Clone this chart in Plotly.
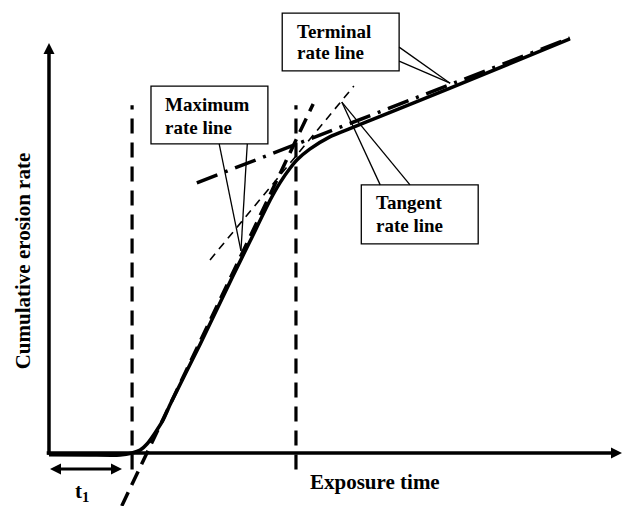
import plotly.graph_objects as go

# Cumulative erosion vs exposure time (schematic, arbitrary units)
time_curve = [0.0, 7.2, 12.4, 14.5, 15.9, 17.1, 18.5, 19.9, 21.1, 26.4, 32.1, 35.1,
              38.6, 40.3, 42.1, 43.3, 45.5, 49.0, 52.5, 57.8, 70.0, 90.9]
erosion_curve = [-0.4, -0.5, -0.5, 0.0, 0.7, 2.2, 4.9, 8.0, 11.7, 26.6, 43.2, 51.7,
                 61.7, 65.9, 69.5, 71.5, 74.1, 77.1, 79.1, 82.1, 89.0, 101.0]

# Rate lines
max_rate_time = [12.7, 46.1]
max_rate_erosion = [-12.9, 85.1]
tangent_time = [28.1, 53.2]
tangent_erosion = [47.1, 89.5]
terminal_time = [25.8, 90.9]
terminal_erosion = [65.9, 101.2]

# Characteristic times (vertical markers)
incubation_end = 14.5
knee_time = 43.1
marker_span = [-4.0, 84.8]

# Axis extents and incubation-period span
axis_time_max = 100.0
axis_erosion_max = 100.0
incubation_span = [0.17, 12.74]
incubation_level = -3.9

BOX_FONT = dict(family="Liberation Serif", size=19, color="black")
AXIS_FONT = dict(family="Liberation Serif", size=21, color="black")

fig = go.Figure()

# vertical dashed markers
for t in (incubation_end, knee_time):
    fig.add_trace(go.Scatter(x=[t, t], y=marker_span, mode="lines",
                             line=dict(color="black", width=3.2, dash="15px,9px")))

# tangent line (thin dashed)
fig.add_trace(go.Scatter(x=tangent_time, y=tangent_erosion, mode="lines",
                         line=dict(color="black", width=1.6, dash="8px,6px")))
# terminal rate line (dash-dot)
fig.add_trace(go.Scatter(x=terminal_time, y=terminal_erosion, mode="lines",
                         line=dict(color="black", width=3.5, dash="22px,8px,3px,8px")))
# maximum rate line (long dash)
fig.add_trace(go.Scatter(x=max_rate_time, y=max_rate_erosion, mode="lines",
                         line=dict(color="black", width=3.5, dash="15px,8px")))
# erosion curve
fig.add_trace(go.Scatter(x=time_curve, y=erosion_curve, mode="lines",
                         line=dict(color="black", width=3.5, shape="spline", smoothing=0.6)))

# axes with arrowheads
fig.add_trace(go.Scatter(x=[0, 0], y=[-0.4, axis_erosion_max - 1.5], mode="lines",
                         line=dict(color="black", width=3.5)))
fig.add_trace(go.Scatter(x=[-0.4, axis_time_max - 1.0], y=[0, 0], mode="lines",
                         line=dict(color="black", width=3.5)))
fig.add_trace(go.Scatter(x=[0, axis_time_max], y=[axis_erosion_max, 0], mode="markers",
                         marker=dict(symbol=["arrow-up", "arrow-right"], size=11,
                                     color="black", line=dict(width=0)),
                         cliponaxis=False))

# incubation period t1 (double-headed arrow)
fig.add_trace(go.Scatter(x=[incubation_span[0] + 1.0, incubation_span[1] - 1.0],
                         y=[incubation_level, incubation_level], mode="lines",
                         line=dict(color="black", width=3)))
fig.add_trace(go.Scatter(x=incubation_span, y=[incubation_level, incubation_level],
                         mode="markers",
                         marker=dict(symbol=["arrow-left", "arrow-right"], size=11,
                                     color="black", line=dict(width=0))))

# label boxes
boxes = [
    (17.8, 38.2, 75.4, 89.5),   # maximum
    (40.7, 61.1, 93.2, 107.3),  # terminal
    (54.5, 74.9, 51.0, 65.4),   # tangent
]
for x0, x1, y0, y1 in boxes:
    fig.add_shape(type="rect", x0=x0, x1=x1, y0=y0, y1=y1, xref="x", yref="y",
                  line=dict(color="black", width=1.3), fillcolor="white", layer="above")

# callout pointers
pointers = [
    ((29.7, 75.4), (33.5, 49.3)), ((34.6, 75.4), (33.5, 49.3)),
    ((61.1, 99.0), (70.0, 90.2)), ((61.1, 95.6), (70.0, 90.2)),
    ((57.8, 65.4), (51.1, 85.6)), ((63.0, 65.4), (51.1, 85.6)),
]
for (xa, ya), (xb, yb) in pointers:
    fig.add_shape(type="line", x0=xa, y0=ya, x1=xb, y1=yb, xref="x", yref="y",
                  line=dict(color="black", width=1.3), layer="above")

texts = [
    ("Maximum", 19.9, 84.9), ("rate line", 19.9, 79.5),
    ("Terminal", 42.9, 102.7), ("rate line", 42.9, 97.6),
    ("Tangent", 56.7, 61.0), ("rate line", 56.7, 55.6),
]
for s, x, y in texts:
    fig.add_annotation(x=x, y=y, text=f"<b>{s}</b>", showarrow=False, xanchor="left",
                       yanchor="middle", xref="x", yref="y", font=BOX_FONT)

fig.add_annotation(x=56.9, y=-7.1, text="<b>Exposure time</b>", showarrow=False,
                   xref="x", yref="y", font=AXIS_FONT)
fig.add_annotation(x=5.8, y=-9.6, text="<b>t<sub>1</sub></b>", showarrow=False,
                   xref="x", yref="y", font=AXIS_FONT)
fig.add_annotation(x=-4.5, y=46.8, text="<b>Cumulative erosion rate</b>", showarrow=False,
                   textangle=-90, xref="x", yref="y", font=AXIS_FONT)

fig.update_layout(
    width=623, height=506, margin=dict(l=0, r=0, t=0, b=0),
    paper_bgcolor="white", plot_bgcolor="white", showlegend=False,
    font=dict(family="Liberation Serif"),
    xaxis=dict(range=[-8.55, 100.17], visible=False, fixedrange=True),
    yaxis=dict(range=[-12.93, 110.49], visible=False, fixedrange=True),
)

fig.write_html("out.html")
